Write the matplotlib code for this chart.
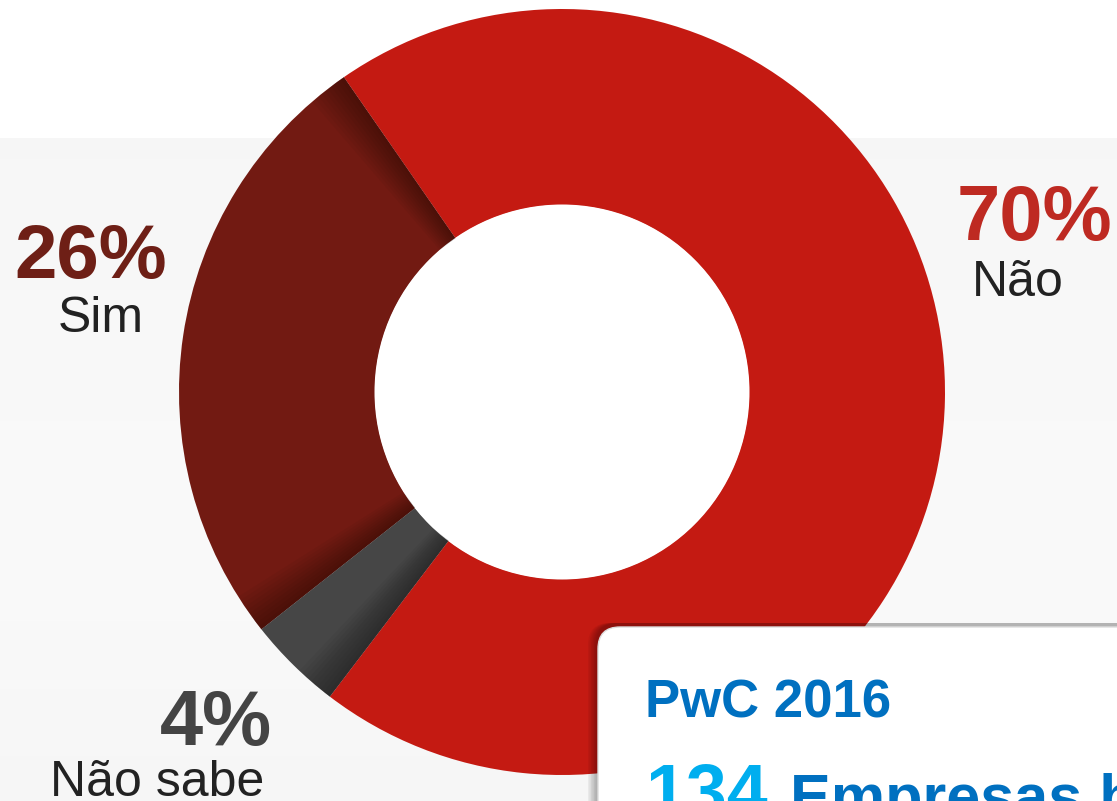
import numpy as np
import matplotlib
matplotlib.use("Agg")
import matplotlib.pyplot as plt
from matplotlib.patches import Wedge, FancyBboxPatch, Circle

# dados do gráfico
labels = ["Sim", "Não sabe", "Não"]
values = [26, 4, 70]
pcts = ["26%", "4%", "70%"]
colors = ["#721A12", "#464646", "#C41A12"]
pct_colors = ["#6E1F16", "#444444", "#BE2A22"]

W, H = 1117, 801
plt.rcParams['font.family'] = ['Liberation Sans', 'DejaVu Sans']

fig = plt.figure(figsize=(W / 100, H / 100), dpi=100)
ax = fig.add_axes([0, 0, 1, 1])

def Y(py):
    return H - py

# fundo: branco em cima, cinza claro abaixo
grad = np.ones(H)
yy = np.arange(H)
low = yy >= 138
grad[low] = 0.968 + 0.012 * np.clip((yy[low] - 138) / 400, 0, 1)
grad[yy > 560] = 0.980 - 0.014 * (yy[yy > 560] - 560) / 241
bg = np.repeat(grad[:, None], 4, axis=1)
ax.imshow(np.dstack([bg, bg, bg]), extent=[0, W, 0, H], aspect='auto', zorder=0)

cx, cy = 562, Y(392)
R, Rin = 383, 187
start = 124.7
ax.pie(values, colors=colors, startangle=start, counterclock=True,
       center=(cx, cy), radius=R,
       wedgeprops=dict(width=R - Rin, edgecolor='none', zorder=2))
ax.add_patch(Circle((cx, cy), Rin + 0.5, facecolor='white', lw=0, zorder=2))

# sombras nas bordas dos segmentos
bounds = np.cumsum([0] + values) / 100 * 360 + start
shadows = [(bounds[0], +1), (bounds[1], -1), (bounds[2], -1)]
for ang, d in shadows:
    for k in range(10):
        w = 0.6 * (k + 1)
        t1, t2 = (ang, ang + w) if d > 0 else (ang - w, ang)
        ax.add_patch(Wedge((cx, cy), R, t1, t2, width=R - Rin,
                           facecolor='black', alpha=0.035, lw=0, zorder=3))

# rótulos
ax.text(1112, Y(240), pcts[2], ha='right', va='baseline', fontsize=56,
        fontweight='bold', color=pct_colors[2], zorder=5)
ax.text(972, Y(296), labels[2], ha='left', va='baseline', fontsize=36,
        color='#222222', zorder=5)
ax.text(14, Y(278), pcts[0], ha='left', va='baseline', fontsize=55,
        fontweight='bold', color=pct_colors[0], zorder=5)
ax.text(58, Y(332), labels[0], ha='left', va='baseline', fontsize=36,
        color='#222222', zorder=5)
ax.text(272, Y(745), pcts[1], ha='right', va='baseline', fontsize=56,
        fontweight='bold', color=pct_colors[1], zorder=5)
ax.text(50, Y(796), labels[1], ha='left', va='baseline', fontsize=36,
        color='#222222', zorder=5)

# caixa de fonte
for k in range(6):
    ax.add_patch(FancyBboxPatch((598 - 10 + k * 1.5, Y(900)), 600, 900 - 627 + 4,
                                boxstyle="round,pad=0,rounding_size=22",
                                facecolor='black', alpha=0.05, lw=0, zorder=6))
ax.add_patch(FancyBboxPatch((598, Y(900)), 600, 900 - 627,
                            boxstyle="round,pad=0,rounding_size=22",
                            facecolor='white', edgecolor='#dddddd', lw=1, zorder=7))
ax.text(645, Y(717), "PwC 2016", ha='left', va='baseline', fontsize=38,
        fontweight='bold', color='#0070C0', zorder=8)
ax.text(645, Y(815), "134", ha='left', va='baseline', fontsize=53,
        fontweight='bold', color='#00AEEF', zorder=8)
ax.text(790, Y(817), "Empresas brasileiras", ha='left', va='baseline', fontsize=44,
        fontweight='bold', color='#0070C0', zorder=8)

ax.set_xlim(0, W)
ax.set_ylim(0, H)
ax.set_aspect('auto')
ax.axis('off')

fig.savefig("out.png", dpi=100)
